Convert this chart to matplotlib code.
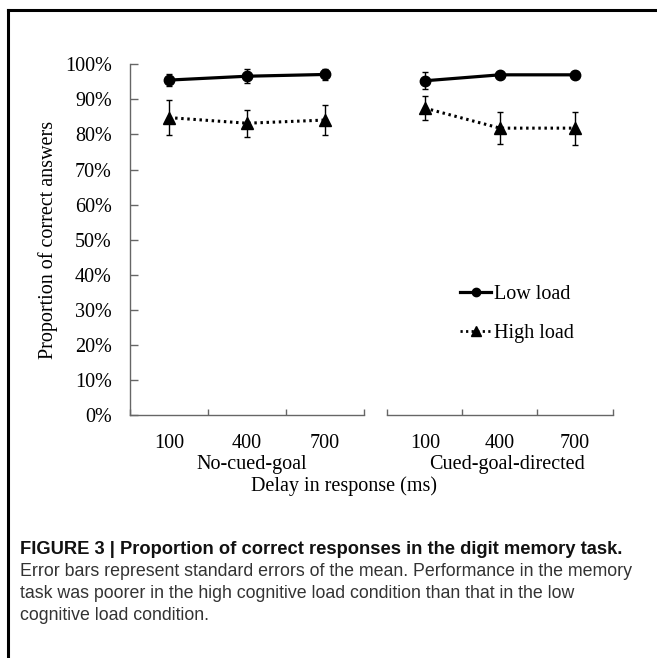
import matplotlib
matplotlib.use('Agg')
import matplotlib.pyplot as plt
from matplotlib.lines import Line2D

# Dados (proporção de respostas corretas)
delays = ['100', '400', '700']
groups = ['No-cued-goal', 'Cued-goal-directed']

low_nocue = [0.955, 0.966, 0.971]
low_nocue_err = [0.016, 0.020, 0.016]
high_nocue = [0.848, 0.832, 0.841]
high_nocue_err = [0.049, 0.038, 0.043]

low_cue = [0.953, 0.970, 0.970]
low_cue_err = [0.024, 0.008, 0.008]
high_cue = [0.875, 0.818, 0.818]
high_cue_err = [0.034, 0.046, 0.047]

W, H = 657, 658
plt.rcParams['font.family'] = ['Liberation Serif', 'DejaVu Serif']
fig = plt.figure(figsize=(W / 100, H / 100), dpi=100)

def px_rect(x0, x1, y_top, y_bot):
    return [x0 / W, 1 - y_bot / H, (x1 - x0) / W, (y_bot - y_top) / H]

ax1 = fig.add_axes(px_rect(130, 364, 64.3, 415))
ax2 = fig.add_axes(px_rect(387.3, 612.5, 64.3, 415))

axis_color = '#666666'
fs = 14.5
x = [1, 2, 3]
low_style = dict(color='black', lw=2.3, marker='o', ms=7.5)
high_style = dict(color='black', lw=2.2, ls=(0, (0.8, 1.2)), marker='^', ms=8.5)

for ax, low, low_e, high, high_e in [(ax1, low_nocue, low_nocue_err, high_nocue, high_nocue_err),
                                     (ax2, low_cue, low_cue_err, high_cue, high_cue_err)]:
    ax.errorbar(x, low, yerr=low_e, ecolor='black', elinewidth=1, capsize=2.5, capthick=1,
                zorder=3, **low_style)
    ax.errorbar(x, high, yerr=high_e, ecolor='black', elinewidth=1, capsize=2.5, capthick=1,
                zorder=3, **high_style)
    ax.set_xlim(0.5, 3.5)
    ax.set_ylim(0, 1)
    ax.set_xticks(x)
    ax.set_xticklabels(delays, fontsize=fs)
    ax.set_xticks([0.5, 1.5, 2.5, 3.5], minor=True)
    ax.tick_params(axis='x', which='major', length=0, pad=14)
    ax.tick_params(axis='x', which='minor', direction='in', length=4.5, width=1, color=axis_color)
    for s in ['top', 'right']:
        ax.spines[s].set_visible(False)
    ax.spines['bottom'].set_color(axis_color)
    ax.spines['bottom'].set_linewidth(1)

ax1.set_yticks([i / 10 for i in range(11)])
ax1.set_yticklabels([f'{i * 10}%' for i in range(11)], fontsize=fs)
ax1.tick_params(axis='y', direction='in', length=5.5, width=1, color=axis_color, pad=13)
ax1.spines['left'].set_color(axis_color)
ax1.spines['left'].set_linewidth(1)

ax2.spines['left'].set_visible(False)
ax2.set_yticks([])

# Rótulos dos grupos e eixo
fig.text(252 / W, 1 - 465 / H, groups[0], fontsize=fs, ha='center', va='center')
fig.text(507 / W, 1 - 465 / H, groups[1], fontsize=fs, ha='center', va='center')
fig.text(344 / W, 1 - 486 / H, 'Delay in response (ms)', fontsize=fs, ha='center', va='center')
fig.text(48 / W, 1 - 240 / H, 'Proportion of correct answers', fontsize=fs, rotation=90,
         ha='center', va='center')

# Legenda (sem barras de erro)
handles = [Line2D([], [], color='black', lw=2.3, marker='o', ms=6),
           Line2D([], [], color='black', lw=2.0, ls=(0, (0.8, 1.2)), marker='^', ms=7)]
ax2.legend(handles, ['Low load', 'High load'], loc='center left',
           bbox_to_anchor=(460 / W, 1 - 314 / H), bbox_transform=fig.transFigure,
           frameon=False, fontsize=fs, handlelength=1.55, handletextpad=0.12, labelspacing=0.95,
           borderpad=0, borderaxespad=0)

# Moldura da figura
fig.add_artist(Line2D([8 / W, 8 / W], [0, 1 - 10 / H], color='black', lw=2.2, transform=fig.transFigure))
fig.add_artist(Line2D([8 / W, 1], [1 - 10 / H, 1 - 10 / H], color='black', lw=2.2, transform=fig.transFigure))

# Legenda da figura
cap_font = ['Liberation Sans', 'DejaVu Sans']
fig.text(20 / W, 1 - 549 / H, 'FIGURE 3 | Proportion of correct responses in the digit memory task.',
         fontsize=13.2, fontweight='bold', family=cap_font, va='center', color='#111111')
cap_lines = ['Error bars represent standard errors of the mean. Performance in the memory',
             'task was poorer in the high cognitive load condition than that in the low',
             'cognitive load condition.']
for i, line in enumerate(cap_lines):
    fig.text(20 / W, 1 - (571 + 22 * i) / H, line, fontsize=12.8, family=cap_font, va='center',
             color='#333333')

plt.savefig('out.png', dpi=100)
